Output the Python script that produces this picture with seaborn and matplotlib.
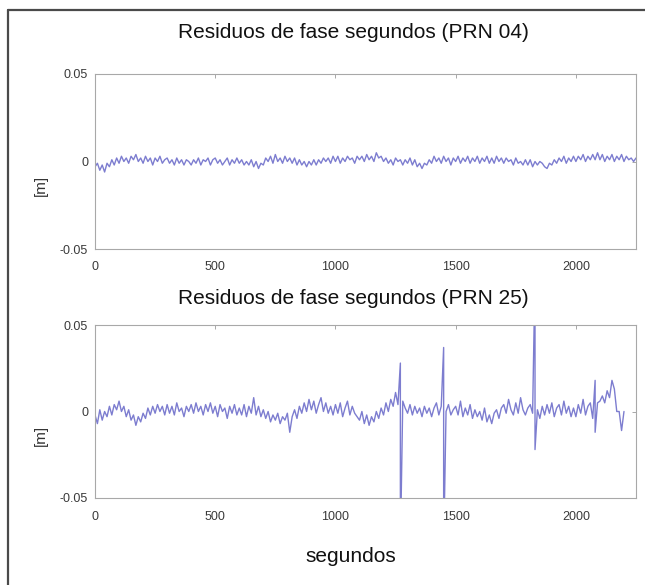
import numpy as np
import pandas as pd
import matplotlib
matplotlib.use("Agg")
import matplotlib.pyplot as plt
import seaborn as sns
from matplotlib.lines import Line2D

# ---------------- data (values in millimetres, sampled every 10 s) ----------------
titles = ["Residuos de fase segundos (PRN 04)", "Residuos de fase segundos (PRN 25)"]
x_label = "segundos"
y_label = "[m]"
x_ticks = [0, 500, 1000, 1500, 2000]
y_ticks = [-0.05, 0, 0.05]
y_tick_labels = ["-0.05", "0", "0.05"]

prn04_t = list(range(0, 2260, 10))
prn04_mm = [
    -3, -1, -5, -2, -6, -1, -3, 1, -2, 2,
    -1, 3, 0, 2, -1, 3, 1, 4, 0, 2,
    -1, 3, 0, 2, -2, 2, 0, 3, -1, 1,
    2, -1, 1, -2, 2, -1, 1, -2, 1, 0,
    -2, 1, -1, 2, -2, 1, 0, 2, -2, 1,
    2, -1, 1, -2, 0, 2, -2, 1, -1, 2,
    -1, 1, -2, 0, -2, 1, -3, 0, -4, -1,
    -2, 2, 0, 3, -1, 4, 0, 2, -1, 3,
    0, 2, -1, 2, -2, 1, -2, 0, -3, 0,
    -2, 1, -2, 1, -1, 2, 0, 2, -1, 3,
    0, 3, -1, 2, 0, 3, 1, 2, -1, 3,
    1, 3, 0, 4, 1, 3, 0, 5, 2, 3,
    0, 2, -1, 1, -2, 2, 0, 1, -2, 1,
    -1, 2, -2, 1, -3, -1, -4, -1, -2, 1,
    -1, 3, 0, 2, -1, 3, 0, 2, -2, 2,
    0, 3, -1, 2, 0, 3, -1, 2, 0, 3,
    -1, 2, 0, 3, -1, 2, -1, 3, 0, 2,
    -1, 2, 0, 1, -2, 2, -1, 0, -2, 1,
    -2, 1, -3, 0, -2, 0, -1, -3, -4, -1,
    -2, 1, -1, 2, 0, 3, -1, 2, 0, 3,
    0, 3, 1, 4, 0, 3, 1, 4, 1, 5,
    1, 4, 0, 3, 1, 4, 0, 3, 1, 4,
    0, 3, 1, 2, 0, 2,
]

prn25_t = list(range(0, 2210, 10))
prn25_mm = [
    -2, -7, 1, -5, 0, -3, 3, -2, 4, 1,
    6, 0, 3, -3, 1, -5, -2, -8, -3, -6,
    -1, -4, 2, -2, 3, -1, 4, 0, 3, -2,
    4, -1, 3, -2, 5, 0, 2, -3, 3, 0,
    4, -1, 5, 0, 3, -2, 4, 0, 5, -1,
    3, -3, 4, 0, 2, -4, 3, -1, 4, -2,
    2, -2, 4, -3, 3, -1, 8, -2, 3, -3,
    1, -4, 0, -6, -2, -5, -1, -7, -3, -5,
    -1, -12, -3, 1, -4, 3, -1, 5, 0, 7,
    1, 6, -1, 4, 8, 0, 5, -1, 3, -2,
    4, -1, 5, -3, 2, 6, -2, 3, -1, -3,
    -5, 0, -7, -2, -8, -3, -6, 0, -4, 2,
    -2, 5, 0, 7, 3, 11, 4, 28, 6, 2,
    -1, 4, -2, 3, -1, 2, -3, 3, -1, 2,
    -3, 2, 5, -2, 3, 37, 0, 4, -2, 1,
    3, -2, 6, -3, 2, -2, 4, -4, 1, -3,
    0, -5, 2, -6, -2, -7, -1, 1, -4, 2,
    4, -1, 7, 1, -2, 5, -1, 8, 1, -2,
    2, 4, -1, 80, 1, -4, 3, -2, 4, -1,
    5, -3, 2, 4, -2, 6, -1, 3, -3, 2,
    -3, 4, -1, 7, -2, 3, 5, -4, 18, 5,
    6, 9, 5, 12, 8, 18, 13, 0, 0, -11,
    0,
]
# outliers: at these instants the residual jumps to a second value in the same epoch
prn25_spike_t = [1270, 1450, 1830, 2080]
prn25_spike_mm = [-80, -80, -22, -12]

# ---------------- build tables ----------------
def build(t, mm, spike_t=(), spike_mm=()):
    extra = dict(zip(spike_t, spike_mm))
    tt, vv = [], []
    for ti, vi in zip(t, mm):
        tt.append(ti)
        vv.append(vi)
        if ti in extra:
            tt.append(ti)
            vv.append(extra[ti])
    return pd.DataFrame({"t": tt, "res": np.array(vv, dtype=float) / 1000.0})

tables = [build(prn04_t, prn04_mm), build(prn25_t, prn25_mm, prn25_spike_t, prn25_spike_mm)]

# ---------------- figure ----------------
sns.set_style("white")
plt.rcParams["font.family"] = ["Liberation Sans", "DejaVu Sans"]

W, H = 645, 585
fig = plt.figure(figsize=(W / 100, H / 100), dpi=100)
fig.patch.set_facecolor("white")

# outer frame (left and top edges visible)
fig.add_artist(Line2D([8 / W, 8 / W], [0, 1 - 10 / H], color="#4a4a4a", lw=1.6))
fig.add_artist(Line2D([8 / W, 1], [1 - 10 / H, 1 - 10 / H], color="#4a4a4a", lw=1.6))

axes_px = [(95, 74, 636, 249), (95, 325, 636, 498)]
title_y = [33, 298]
ylabel_y = [185, 435]
line_color = "#5c5cc4"

for i, (df, (x0, y0, x1, y1)) in enumerate(zip(tables, axes_px)):
    ax = fig.add_axes([x0 / W, 1 - y1 / H, (x1 - x0) / W, (y1 - y0) / H])
    sns.lineplot(data=df, x="t", y="res", ax=ax, color=line_color,
                 linewidth=1.0, alpha=0.8, estimator=None, sort=False)
    ax.set_xlim(0, 2250)
    ax.set_ylim(-0.05, 0.05)
    ax.set_xticks(x_ticks)
    ax.set_xticklabels([str(v) for v in x_ticks])
    ax.set_yticks(y_ticks)
    ax.set_yticklabels(y_tick_labels)
    ax.set_xlabel("")
    ax.set_ylabel("")
    ax.tick_params(direction="in", length=3, width=0.6, colors="#9a9a9a",
                   labelcolor="#3a3a3a", labelsize=9, top=True, right=True)
    ax.tick_params(axis="x", pad=9)
    ax.tick_params(axis="y", pad=5)
    for s in ax.spines.values():
        s.set_color("#a8a8a8")
        s.set_linewidth(0.8)
    fig.text(353 / W, 1 - title_y[i] / H, titles[i], ha="center", va="center",
             fontsize=15, color="#111111")
    fig.text(41 / W, 1 - ylabel_y[i] / H, y_label, ha="center", va="center",
             rotation=90, fontsize=11, color="#333333")

fig.text(351 / W, 1 - 557 / H, x_label, ha="center", va="center",
         fontsize=15, color="#111111")

fig.savefig("out.png", dpi=100, facecolor="white")
